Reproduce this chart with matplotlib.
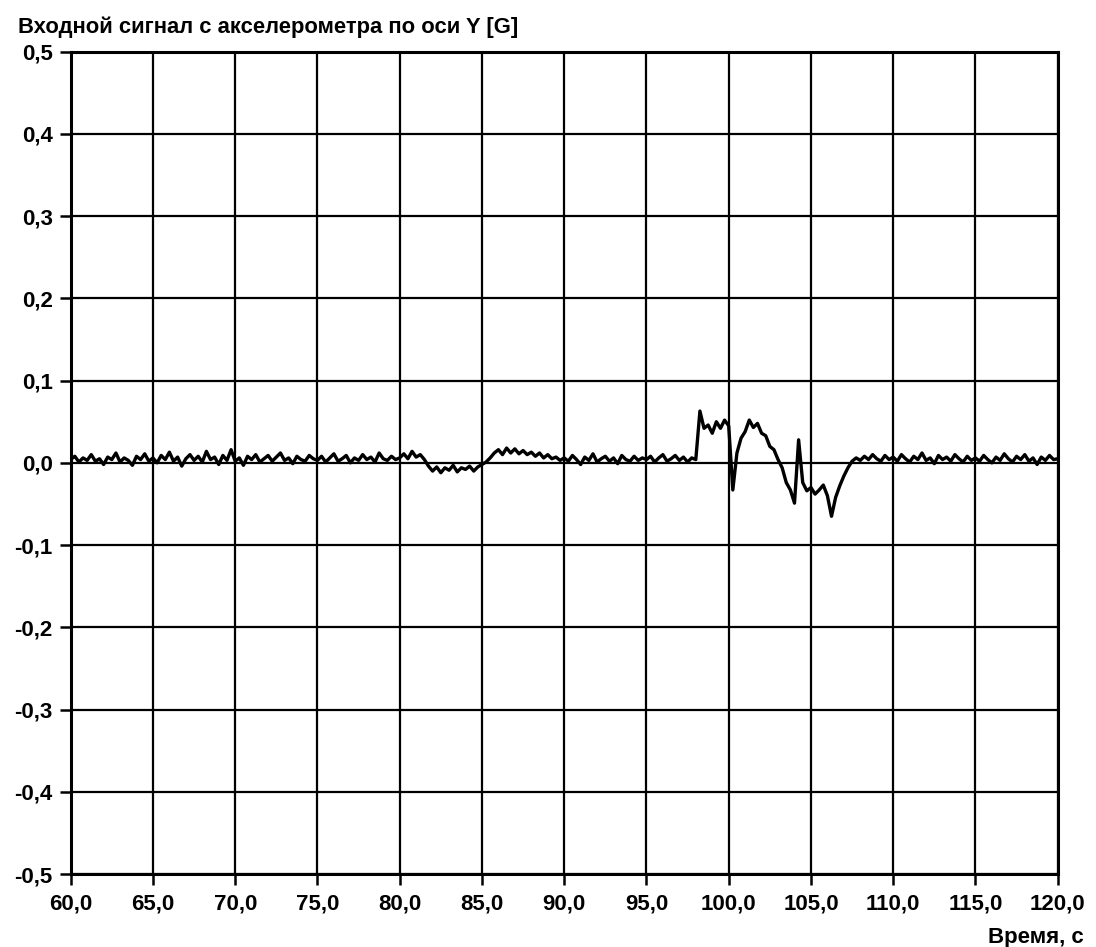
import numpy as np
import matplotlib
matplotlib.use("Agg")
import matplotlib.pyplot as plt

plt.rcParams['font.family'] = ['Liberation Sans', 'DejaVu Sans']

title = "Входной сигнал с акселерометра по оси Y [G]"
xlabel = "Время, с"

t_start, t_step = 60.0, 0.25

seg_60_65 = [0.004, 0.008, 0.001, 0.006, 0.003, 0.010, 0.002, 0.005, -0.002, 0.007,
             0.004, 0.012, 0.001, 0.006, 0.003, -0.003, 0.008, 0.004, 0.011, 0.002]
seg_65_70 = [0.006, 0.000, 0.009, 0.004, 0.013, 0.002, 0.007, -0.004, 0.005, 0.010,
             0.003, 0.008, 0.001, 0.014, 0.004, 0.007, -0.002, 0.009, 0.003, 0.016]
seg_70_75 = [0.002, 0.006, -0.003, 0.008, 0.004, 0.010, 0.001, 0.005, 0.009, 0.002,
             0.007, 0.012, 0.003, 0.006, -0.001, 0.008, 0.004, 0.002, 0.009, 0.005]
seg_75_80 = [0.003, 0.008, 0.001, 0.006, 0.011, 0.002, 0.005, 0.009, 0.000, 0.006,
             0.003, 0.010, 0.004, 0.007, 0.001, 0.012, 0.005, 0.003, 0.008, 0.004]
seg_80_85 = [0.006, 0.011, 0.005, 0.014, 0.007, 0.010, 0.004, -0.004, -0.010, -0.005,
             -0.012, -0.006, -0.009, -0.003, -0.011, -0.006, -0.008, -0.004, -0.010, -0.005]
seg_85_90 = [-0.002, 0.001, 0.006, 0.012, 0.016, 0.010, 0.018, 0.012, 0.017, 0.011,
             0.015, 0.010, 0.013, 0.008, 0.012, 0.006, 0.010, 0.005, 0.007, 0.003]
seg_90_95 = [0.006, 0.002, 0.009, 0.004, -0.002, 0.007, 0.003, 0.011, 0.001, 0.005,
             0.008, 0.002, 0.006, -0.001, 0.009, 0.004, 0.002, 0.008, 0.003, 0.006]
seg_95_100 = [0.004, 0.008, 0.001, 0.006, 0.010, 0.002, 0.005, 0.009, 0.003, 0.007,
              0.001, 0.006, 0.004, 0.063, 0.042, 0.046, 0.036, 0.050, 0.042, 0.052]
seg_100_105 = [0.045, -0.033, 0.012, 0.030, 0.038, 0.052, 0.043, 0.048, 0.036, 0.033,
               0.020, 0.016, 0.004, -0.006, -0.024, -0.033, -0.049, 0.028, -0.024, -0.034]
seg_105_110 = [-0.030, -0.038, -0.033, -0.027, -0.040, -0.065, -0.042, -0.028, -0.016, -0.006,
               0.002, 0.006, 0.003, 0.008, 0.004, 0.010, 0.005, 0.002, 0.009, 0.004]
seg_110_115 = [0.007, 0.002, 0.010, 0.005, 0.001, 0.008, 0.004, 0.012, 0.003, 0.006,
               -0.001, 0.009, 0.004, 0.007, 0.002, 0.010, 0.005, 0.001, 0.008, 0.003]
seg_115_120 = [0.006, 0.002, 0.009, 0.004, 0.000, 0.007, 0.003, 0.011, 0.005, 0.001,
               0.008, 0.004, 0.010, 0.002, 0.006, -0.002, 0.007, 0.003, 0.009, 0.004, 0.005]

signal = np.array(seg_60_65 + seg_65_70 + seg_70_75 + seg_75_80 + seg_80_85 + seg_85_90 +
                  seg_90_95 + seg_95_100 + seg_100_105 + seg_105_110 + seg_110_115 + seg_115_120)
time = t_start + t_step * np.arange(len(signal))

x_ticks = np.arange(60, 120.1, 5)
y_ticks = np.round(np.arange(-0.5, 0.501, 0.1), 1)

def fmt_comma(v, dec):
    s = f"{v:.{dec}f}".replace('.', ',')
    if s.startswith('-0,0') and float(v) == 0:
        s = s[1:]
    return s

W, H = 1096, 947
fig = plt.figure(figsize=(W / 100, H / 100), dpi=100)
ax = fig.add_axes([70.7 / W, 1 - 874 / H, (1057.7 - 70.7) / W, (874 - 51.7) / H])

ax.plot(time, signal, color='black', linewidth=2.4, zorder=3)

ax.set_xlim(60, 120)
ax.set_ylim(-0.5, 0.5)
ax.set_xticks(x_ticks)
ax.set_yticks(y_ticks)
ax.set_xticklabels([fmt_comma(v, 1) for v in x_ticks], fontweight='bold')
ax.set_yticklabels([fmt_comma(v, 1) for v in y_ticks], fontweight='bold')
ax.grid(True, color='black', linewidth=1.6, zorder=1)
for s in ax.spines.values():
    s.set_linewidth(2.2)
ax.tick_params(axis='both', direction='out', length=8, width=1.8, labelsize=16, colors='black')
ax.tick_params(axis='x', pad=6)
ax.tick_params(axis='y', pad=5)

fig.text(18 / W, 1 - 27 / H, title, ha='left', va='center', fontsize=15.8, fontweight='bold')
fig.text(1084 / W, 1 - 937 / H, xlabel, ha='right', va='center', fontsize=16, fontweight='bold')

fig.savefig('out.png', dpi=100)
